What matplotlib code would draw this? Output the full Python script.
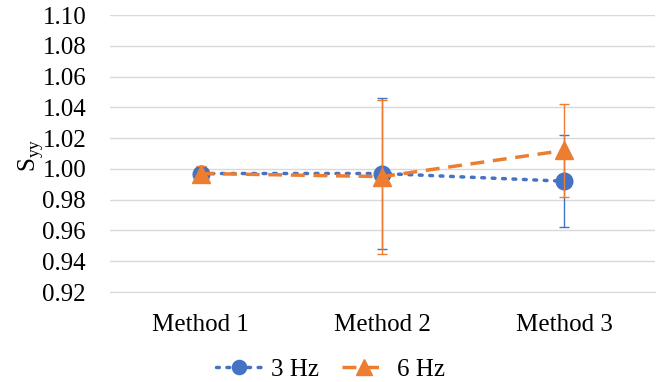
import numpy as np
import matplotlib.pyplot as plt

plt.rcParams['font.family'] = 'Liberation Serif'

# data
methods = ['Method 1', 'Method 2', 'Method 3']
s3 = [0.997, 0.997, 0.992]
s3_err = [0.004, 0.049, 0.030]
s6 = [0.997, 0.995, 1.012]
s6_err = [0.005, 0.050, 0.030]

blue = '#4472C4'
orange = '#ED7D31'

fig = plt.figure(figsize=(6.61, 3.82), dpi=100)
ax = fig.add_axes([0.166, 0.2356, 0.825, 0.7251])

x = np.arange(len(methods))

ax.errorbar(x, s3, yerr=s3_err, color=blue, ecolor=blue, elinewidth=1, capsize=3.3,
            capthick=1, linestyle=(0, (0.8, 2.2)), dash_capstyle='round', linewidth=2.5,
            marker='o', markersize=12, label='3 Hz', zorder=3)
ax.errorbar(x, s6, yerr=s6_err, color=orange, ecolor=orange, elinewidth=1, capsize=3.3,
            capthick=1, linestyle=(0, (4, 2.5)), linewidth=2.5,
            marker='^', markersize=13, label='6 Hz', zorder=4)

ax.set_xlim(-0.5, 2.5)
ax.set_ylim(0.92, 1.10)
ax.set_yticks(np.arange(0.92, 1.101, 0.02))
ax.set_yticklabels(['%.2f' % v for v in np.arange(0.92, 1.101, 0.02)])
ax.set_xticks(x)
ax.set_xticklabels(methods)
ax.tick_params(axis='both', length=0, labelsize=18, colors='#000000')
ax.tick_params(axis='y', pad=17)
ax.tick_params(axis='x', pad=16)

ax.grid(axis='y', color='#D9D9D9', linewidth=1)
ax.set_axisbelow(True)
for s in ['top', 'right', 'left']:
    ax.spines[s].set_visible(False)
ax.spines['bottom'].set_color('#D9D9D9')

ax.set_ylabel(r'S$_{\mathregular{yy}}$', fontsize=18)
ax.yaxis.set_label_coords(-0.117, 0.495)

handles, labels = ax.get_legend_handles_labels()
handles = [h[0] for h in handles]
fig.legend(handles, labels, loc='lower center', ncol=2, frameon=False, fontsize=18,
           bbox_to_anchor=(0.5, -0.055), handlelength=1.8, handletextpad=0.4,
           columnspacing=0.9, markerscale=0.85)

fig.savefig('out.png', dpi=100)
